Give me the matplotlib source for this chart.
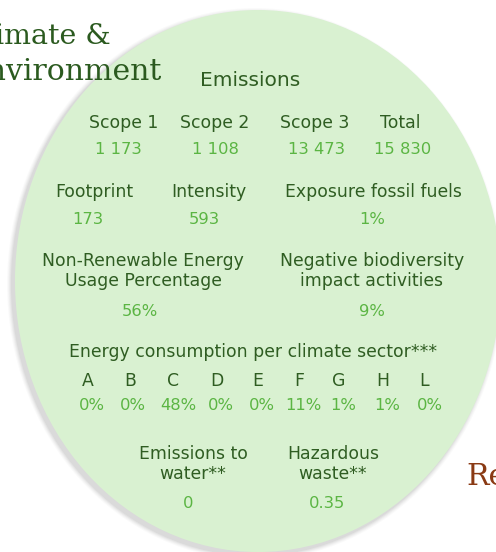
import matplotlib
matplotlib.use("Agg")
import matplotlib.pyplot as plt
from matplotlib.patches import Ellipse

# ---- data ----
title_lines = ["Climate &", "Environment"]
section_title = "Emissions"
scope_labels = ["Scope 1", "Scope 2", "Scope 3", "Total"]
scope_values = ["1 173", "1 108", "13 473", "15 830"]
mid_labels = ["Footprint", "Intensity", "Exposure fossil fuels"]
mid_values = ["173", "593", "1%"]
pct_labels = ["Non-Renewable Energy\nUsage Percentage", "Negative biodiversity\nimpact activities"]
pct_values = ["56%", "9%"]
sector_title = "Energy consumption per climate sector***"
sector_codes = ["A", "B", "C", "D", "E", "F", "G", "H", "L"]
sector_values = ["0%", "0%", "48%", "0%", "0%", "11%", "1%", "1%", "0%"]
waste_labels = ["Emissions to\nwater**", "Hazardous\nwaste**"]
waste_values = ["0", "0.35"]
next_title = "Re"

# ---- style ----
W, H = 496, 552
LABEL = "#2f5d22"
VALUE = "#5bb543"
FILL = "#d9f1d1"
FONT = ["DejaVu Sans"]
SERIF = ["DejaVu Serif"]
LS = 12.4
VS = 11.8

fig = plt.figure(figsize=(W / 100, H / 100), dpi=100)
ax = fig.add_axes([0, 0, 1, 1])
ax.set_xlim(0, W)
ax.set_ylim(H, 0)
ax.axis("off")

cx, cy, rx, ry = 258, 281, 243, 271
# soft shadow
for i, a in enumerate([0.02, 0.025, 0.03, 0.035, 0.04]):
    d = 5 - i
    ax.add_patch(Ellipse((cx - 3, cy + 3), 2 * (rx + d), 2 * (ry + d),
                         facecolor="black", edgecolor="none", alpha=a))
ax.add_patch(Ellipse((cx, cy), 2 * rx, 2 * ry, facecolor=FILL, edgecolor="none"))

def lab(x, y, s, size=LS, **kw):
    ax.text(x, y, s, ha="center", va="center", color=LABEL, fontsize=size,
            family=FONT, linespacing=1.2, **kw)

def val(x, y, s, size=VS):
    ax.text(x, y, s, ha="center", va="center", color=VALUE, fontsize=size, family=FONT)

# partial titles from neighbouring panels
ax.text(111, 37, title_lines[0], ha="right", va="center", color="#2b5a1f",
        fontsize=20.5, family=SERIF)
ax.text(162, 72, title_lines[1], ha="right", va="center", color="#2b5a1f",
        fontsize=21.5, family=SERIF)
ax.text(466, 477, next_title, ha="left", va="center", color="#8a3a14",
        fontsize=21.5, family=SERIF)

lab(250, 80, section_title, size=14.5)

for x, l in zip([124, 215, 315, 400], scope_labels):
    lab(x, 123, l)
for x, v in zip([118, 215, 316, 403], scope_values):
    val(x, 150, v)

for x, l in zip([94, 209, 373], mid_labels):
    lab(x, 192, l)
for x, v in zip([88, 204, 372], mid_values):
    val(x, 219, v)

for x, l in zip([143, 372], pct_labels):
    lab(x, 271, l)
for x, v in zip([140, 372], pct_values):
    val(x, 312, v)

lab(253, 352, sector_title)
code_x = [88, 130, 173, 217, 258, 299, 339, 383, 424]
val_x = [92, 133, 178, 221, 262, 303, 343, 387, 430]
for x, c in zip(code_x, sector_codes):
    lab(x, 381, c)
for x, v in zip(val_x, sector_values):
    val(x, 405, v)

for x, l in zip([193, 333], waste_labels):
    lab(x, 464, l)
for x, v in zip([188, 327], waste_values):
    val(x, 503, v)

fig.savefig("out.png", dpi=100, facecolor="white")
